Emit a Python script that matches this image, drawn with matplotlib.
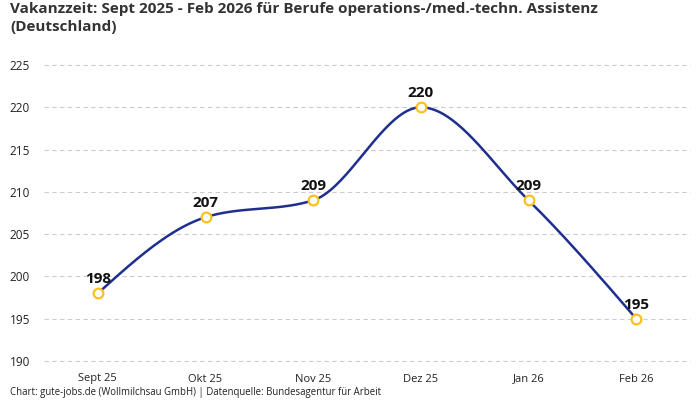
import matplotlib
matplotlib.use("Agg")
import matplotlib.pyplot as plt
import numpy as np

plt.rcParams['font.family'] = ['Open Sans', 'DejaVu Sans']

months = ['Sept 25', 'Okt 25', 'Nov 25', 'Dez 25', 'Jan 26', 'Feb 26']
vakanzzeit = [198, 207, 209, 220, 209, 195]
y_ticks = [190, 195, 200, 205, 210, 215, 220, 225]

title = 'Vakanzzeit: Sept 2025 - Feb 2026 für Berufe operations-/med.-techn. Assistenz\n(Deutschland)'
footer = 'Chart: gute-jobs.de (Wollmilchsau GmbH) | Datenquelle: Bundesagentur für Arbeit'


def monotone_curve(x, y, n=40):
    # monotone cubic (like d3.curveMonotoneX)
    x = np.asarray(x, float)
    y = np.asarray(y, float)
    h = np.diff(x)
    s = np.diff(y) / h
    m = np.zeros(len(x))
    for i in range(1, len(x) - 1):
        if s[i - 1] * s[i] <= 0:
            m[i] = 0
        else:
            p = (s[i - 1] * h[i] + s[i] * h[i - 1]) / (h[i - 1] + h[i])
            m[i] = (np.sign(s[i - 1]) + np.sign(s[i])) * min(abs(s[i - 1]), abs(s[i]), 0.5 * abs(p))
    m[0] = (3 * s[0] - m[1]) / 2
    m[-1] = (3 * s[-1] - m[-2]) / 2
    xs, ys = [], []
    for i in range(len(x) - 1):
        t = np.linspace(0, 1, n)
        h00 = 2 * t**3 - 3 * t**2 + 1
        h10 = t**3 - 2 * t**2 + t
        h01 = -2 * t**3 + 3 * t**2
        h11 = t**3 - t**2
        xs.append(x[i] + t * h[i])
        ys.append(h00 * y[i] + h10 * h[i] * m[i] + h01 * y[i + 1] + h11 * h[i] * m[i + 1])
    return np.concatenate(xs), np.concatenate(ys)


fig = plt.figure(figsize=(7, 4), dpi=100)
ax = fig.add_axes([44 / 700, 1 - 361 / 400, 646 / 700, 296 / 400])

x = np.arange(len(months))
cx, cy = monotone_curve(x, vakanzzeit)
ax.plot(cx, cy, color='#1f2f8f', linewidth=1.8, zorder=3)
ax.plot(x, vakanzzeit, linestyle='none', marker='o', markersize=7,
        markerfacecolor='white', markeredgecolor='#f8c21c', markeredgewidth=1.6, zorder=4)

for xi, v in zip(x, vakanzzeit):
    ax.annotate(str(v), (xi, v), xytext=(0, 5), textcoords='offset points',
                ha='center', va='bottom', fontsize=11, fontweight='bold', color='#111111')

ax.set_xlim(-0.5, len(months) - 0.5)
ax.set_ylim(190, 225)
ax.set_xticks(x)
ax.set_xticklabels(months, fontsize=8, color='#222222')
ax.set_yticks(y_ticks)
ax.set_yticklabels([str(t) for t in y_ticks], fontsize=8.5, color='#222222')
ax.tick_params(axis='both', length=0)
ax.tick_params(axis='y', pad=10)
ax.tick_params(axis='x', pad=9)
ax.grid(axis='y', color='#cccccc', linestyle=(0, (4, 3)), linewidth=0.8)
for gl in ax.get_ygridlines():
    gl.set_clip_on(False)
for sp in ax.spines.values():
    sp.set_visible(False)

fig.text(10 / 700, 1 - 2 / 400, title, ha='left', va='top', fontsize=11,
         fontweight='bold', color='#333333', linespacing=1.35)
fig.text(10 / 700, 1 - 393 / 400, footer, ha='left', va='center', fontsize=6.9, color='#222222')

fig.savefig('out.png', dpi=100)
